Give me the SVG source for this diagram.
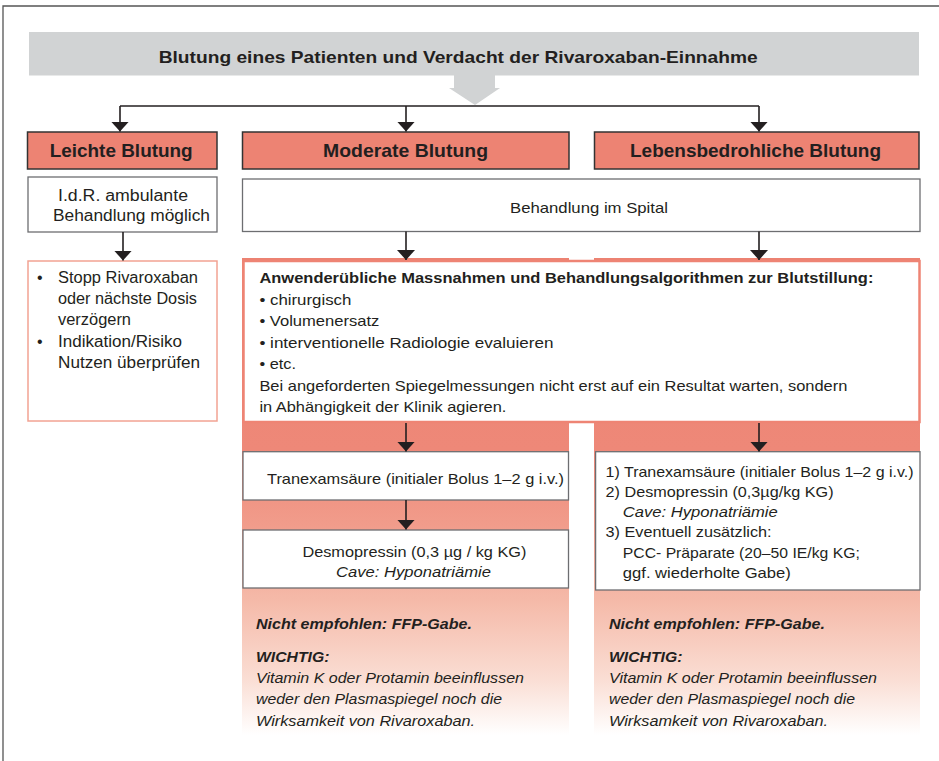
<svg xmlns="http://www.w3.org/2000/svg" width="939" height="761" viewBox="0 0 939 761">
<style>
text{font-family:"Liberation Sans",Arial,sans-serif;fill:#231F20}
.t{font-size:15px}
.s{font-size:16px}
.b{font-weight:bold}
.i{font-style:italic}
.h{font-size:19px;font-weight:bold}
.hdr{fill:#ED8373;stroke:#333;stroke-width:1.5}
.gbox{fill:#fff;stroke:#6D6E71;stroke-width:1.3}
.con{stroke:#231F20;stroke-width:1.6;fill:none}
</style>
<defs>
<linearGradient id="pg" gradientUnits="userSpaceOnUse" x1="0" y1="258" x2="0" y2="735">
<stop offset="0" stop-color="#EC8272"/>
<stop offset="0.4" stop-color="#EE8878"/>
<stop offset="0.56" stop-color="#F19C8B"/>
<stop offset="0.72" stop-color="#F5BAA9"/>
<stop offset="0.88" stop-color="#FADDD3"/>
<stop offset="1" stop-color="#FFFFFF"/>
</linearGradient>
<marker id="ah" viewBox="0 0 10 10" refX="10" refY="5" markerWidth="10" markerHeight="18" markerUnits="userSpaceOnUse" orient="auto" preserveAspectRatio="none">
<path d="M0,0 L10,5 L0,10 z" fill="#231F20"/>
</marker>
</defs>
<rect width="939" height="761" fill="#fff"/>
<path d="M3,761 V6 H939" fill="none" stroke="#555" stroke-width="1.3"/>

<g id="banner">
<rect x="29" y="32" width="890" height="43.5" fill="#D1D3D4"/>
<polygon points="454,75 495,75 495,88 500,88 475,105 449,88 454,88" fill="#D1D3D4"/>
<text class="b" x="158.7" y="63" font-size="17" textLength="599" lengthAdjust="spacingAndGlyphs">Blutung eines Patienten und Verdacht der Rivaroxaban-Einnahme</text>
</g>

<g id="panels">
<rect x="242" y="258" width="327" height="477" fill="url(#pg)"/>
<rect x="594" y="258" width="326" height="477" fill="url(#pg)"/>
</g>

<g id="leichte">
<rect class="hdr" x="27.5" y="132" width="189.5" height="37"/>
<text class="h" x="49.7" y="157" textLength="143" lengthAdjust="spacingAndGlyphs">Leichte Blutung</text>
</g>
<g id="moderate">
<rect class="hdr" x="242.5" y="132" width="326.5" height="37"/>
<text class="h" x="323" y="157" textLength="165" lengthAdjust="spacingAndGlyphs">Moderate Blutung</text>
</g>
<g id="lebens">
<rect class="hdr" x="594.5" y="132" width="324.5" height="37"/>
<text class="h" x="630" y="157" textLength="251" lengthAdjust="spacingAndGlyphs">Lebensbedrohliche Blutung</text>
</g>

<g id="ambulant">
<rect class="gbox" x="28" y="177" width="189" height="55"/>
<text class="s" x="58" y="200.5" textLength="130" lengthAdjust="spacingAndGlyphs">I.d.R. ambulante</text>
<text class="s" x="53" y="220.5" textLength="157" lengthAdjust="spacingAndGlyphs">Behandlung möglich</text>
</g>

<g id="spital">
<rect class="gbox" x="242.5" y="179" width="677.5" height="52.5"/>
<text class="t" x="510" y="212.7" textLength="158" lengthAdjust="spacingAndGlyphs">Behandlung im Spital</text>
</g>

<g id="leicht-massnahmen">
<rect x="28" y="261" width="189" height="160" fill="#fff" stroke="#F2A393" stroke-width="1.5"/>
<text class="s" x="37" y="283">•</text>
<text class="s" x="58" y="283" textLength="140" lengthAdjust="spacingAndGlyphs">Stopp Rivaroxaban</text>
<text class="s" x="58" y="304" textLength="139" lengthAdjust="spacingAndGlyphs">oder nächste Dosis</text>
<text class="s" x="58" y="325" textLength="73" lengthAdjust="spacingAndGlyphs">verzögern</text>
<text class="s" x="37" y="346.5">•</text>
<text class="s" x="58" y="346.5" textLength="124" lengthAdjust="spacingAndGlyphs">Indikation/Risiko</text>
<text class="s" x="58" y="367.5" textLength="142" lengthAdjust="spacingAndGlyphs">Nutzen überprüfen</text>
</g>

<g id="massnahmen">
<rect x="243.5" y="261" width="676" height="161" fill="#fff" stroke="#EE8474" stroke-width="2.5"/>
<text class="t b" x="259.4" y="283" textLength="614" lengthAdjust="spacingAndGlyphs">Anwenderübliche Massnahmen und Behandlungsalgorithmen zur Blutstillung:</text>
<text class="t" x="259.4" y="304.5" textLength="92" lengthAdjust="spacingAndGlyphs">• chirurgisch</text>
<text class="t" x="259.4" y="326" textLength="120" lengthAdjust="spacingAndGlyphs">• Volumenersatz</text>
<text class="t" x="259.4" y="347.5" textLength="294" lengthAdjust="spacingAndGlyphs">• interventionelle Radiologie evaluieren</text>
<text class="t" x="259.4" y="369" textLength="36.6" lengthAdjust="spacingAndGlyphs">• etc.</text>
<text class="t" x="259.4" y="390.5" textLength="588" lengthAdjust="spacingAndGlyphs">Bei angeforderten Spiegelmessungen nicht erst auf ein Resultat warten, sondern</text>
<text class="t" x="259.4" y="412" textLength="247" lengthAdjust="spacingAndGlyphs">in Abhängigkeit der Klinik agieren.</text>
</g>

<g id="tranex-mod">
<rect class="gbox" x="243" y="451.7" width="325.5" height="48.3"/>
<text class="t" x="267" y="484" textLength="297" lengthAdjust="spacingAndGlyphs">Tranexamsäure (initialer Bolus 1–2 g i.v.)</text>
</g>

<g id="desmo-mod">
<rect class="gbox" x="243" y="530" width="325.5" height="58"/>
<text class="t" x="302.4" y="556.7" textLength="224" lengthAdjust="spacingAndGlyphs">Desmopressin (0,3 µg / kg KG)</text>
<text class="t i" x="336" y="576.7" textLength="155" lengthAdjust="spacingAndGlyphs">Cave: Hyponatriämie</text>
</g>

<g id="therapie-leb">
<rect class="gbox" x="595.6" y="451.7" width="324.4" height="138.3"/>
<text class="t" x="605.6" y="476.7" textLength="308" lengthAdjust="spacingAndGlyphs">1) Tranexamsäure (initialer Bolus 1–2 g i.v.)</text>
<text class="t" x="605.6" y="497" textLength="228" lengthAdjust="spacingAndGlyphs">2) Desmopressin (0,3µg/kg KG)</text>
<text class="t i" x="622.8" y="517.3" textLength="155" lengthAdjust="spacingAndGlyphs">Cave: Hyponatriämie</text>
<text class="t" x="605.6" y="537.3" textLength="166" lengthAdjust="spacingAndGlyphs">3) Eventuell zusätzlich:</text>
<text class="t" x="622.8" y="558.3" textLength="237" lengthAdjust="spacingAndGlyphs">PCC- Präparate (20–50 IE/kg KG;</text>
<text class="t" x="622.8" y="578.3" textLength="168" lengthAdjust="spacingAndGlyphs">ggf. wiederholte Gabe)</text>
</g>

<g id="hinweis-mod">
<text class="t b i" x="256" y="629.3" textLength="216" lengthAdjust="spacingAndGlyphs">Nicht empfohlen: FFP-Gabe.</text>
<text class="t b i" x="256" y="661.7" textLength="73.5" lengthAdjust="spacingAndGlyphs">WICHTIG:</text>
<text class="t i" x="256" y="682.7" textLength="268" lengthAdjust="spacingAndGlyphs">Vitamin K oder Protamin beeinflussen</text>
<text class="t i" x="256" y="704" textLength="246" lengthAdjust="spacingAndGlyphs">weder den Plasmaspiegel noch die</text>
<text class="t i" x="256" y="726" textLength="219" lengthAdjust="spacingAndGlyphs">Wirksamkeit von Rivaroxaban.</text>
</g>

<g id="hinweis-leb">
<text class="t b i" x="609" y="629.3" textLength="216" lengthAdjust="spacingAndGlyphs">Nicht empfohlen: FFP-Gabe.</text>
<text class="t b i" x="609" y="661.7" textLength="73.5" lengthAdjust="spacingAndGlyphs">WICHTIG:</text>
<text class="t i" x="609" y="682.7" textLength="268" lengthAdjust="spacingAndGlyphs">Vitamin K oder Protamin beeinflussen</text>
<text class="t i" x="609" y="704" textLength="246" lengthAdjust="spacingAndGlyphs">weder den Plasmaspiegel noch die</text>
<text class="t i" x="609" y="726" textLength="219" lengthAdjust="spacingAndGlyphs">Wirksamkeit von Rivaroxaban.</text>
</g>

<g id="connectors">
<path class="con" d="M120,106 H759"/>
<path class="con" d="M120,106 V131.5" marker-end="url(#ah)"/>
<path class="con" d="M406,106 V131.5" marker-end="url(#ah)"/>
<path class="con" d="M759,106 V131.5" marker-end="url(#ah)"/>
<path class="con" d="M123,232 V260.5" marker-end="url(#ah)"/>
<path class="con" d="M406,231.5 V260" marker-end="url(#ah)"/>
<path class="con" d="M759,231.5 V260" marker-end="url(#ah)"/>
<path class="con" d="M406,423 V451.5" marker-end="url(#ah)"/>
<path class="con" d="M406,500 V529.5" marker-end="url(#ah)"/>
<path class="con" d="M759,423 V451.5" marker-end="url(#ah)"/>
</g>
</svg>
